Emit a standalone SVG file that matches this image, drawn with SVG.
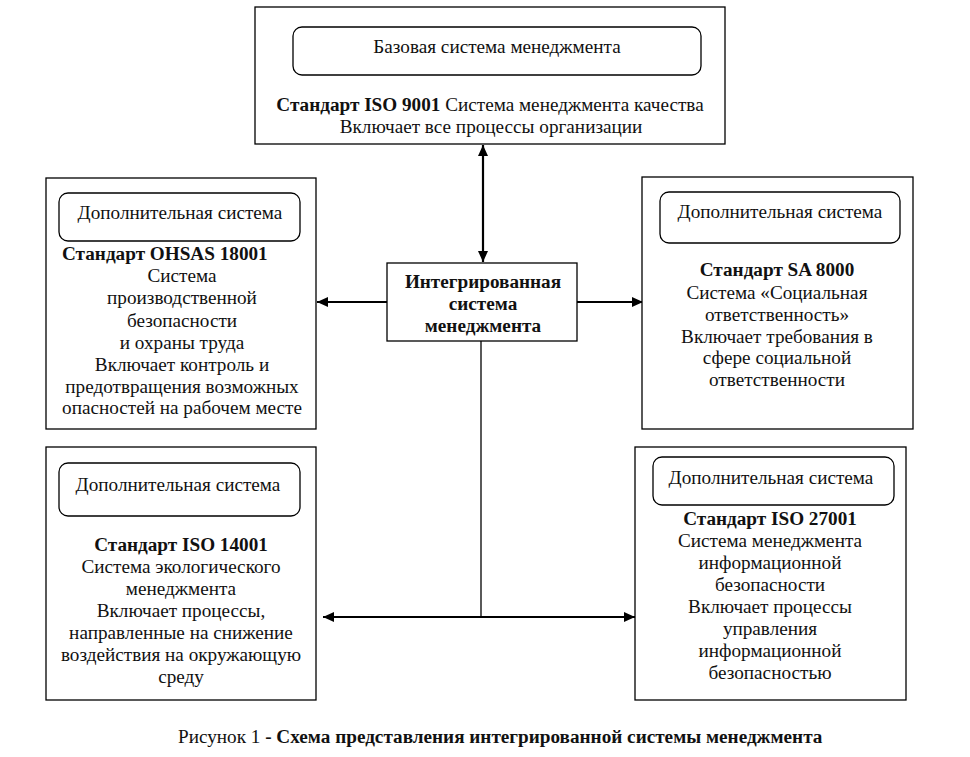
<svg xmlns="http://www.w3.org/2000/svg" width="970" height="757" viewBox="0 0 970 757">
<style>
  .box { fill: #fff; stroke: #000; stroke-width: 1.3; }
  .inner { fill: #fff; stroke: #000; stroke-width: 1.3; }
  text { font-family: "Liberation Serif", "Times New Roman", serif; font-size: 19.2px; fill: #111; }
  .c { text-anchor: middle; }
  .b { font-weight: bold; }
  .arrow { stroke: #000; stroke-width: 2.2; fill: none; }
  .thin { stroke: #000; stroke-width: 1.3; fill: none; }
</style>
<defs>
  <marker id="ah" markerUnits="userSpaceOnUse" markerWidth="12" markerHeight="10" refX="11" refY="5" orient="auto-start-reverse">
    <path d="M0,0 L11,5 L0,10 z" fill="#000"/>
  </marker>
</defs>
<rect width="970" height="757" fill="#fff"/>

<g id="connectors">
  <line class="arrow" x1="483" y1="145" x2="483" y2="262" marker-start="url(#ah)" marker-end="url(#ah)"/>
  <line class="arrow" x1="387" y1="302" x2="317" y2="302" marker-end="url(#ah)"/>
  <line class="arrow" x1="577" y1="302" x2="643" y2="302" marker-end="url(#ah)"/>
  <line class="thin" x1="481" y1="341" x2="481" y2="617"/>
  <line class="arrow" x1="323" y1="617" x2="635" y2="617" marker-start="url(#ah)" marker-end="url(#ah)"/>
</g>

<g id="base">
  <rect class="box" x="255" y="7" width="470" height="137"/>
  <rect class="inner" x="293" y="27" width="408" height="48" rx="9"/>
  <text class="c" x="497" y="53">Базовая система менеджмента</text>
  <text class="c" x="490" y="111"><tspan class="b">Стандарт ISO 9001</tspan> Система менеджмента качества</text>
  <text class="c" x="491" y="133">Включает все процессы организации</text>
</g>

<g id="integrated">
  <rect class="box" x="387" y="263" width="190" height="78"/>
  <text class="c b" x="483" y="288">Интегрированная</text>
  <text class="c b" x="483" y="310">система</text>
  <text class="c b" x="483" y="332">менеджмента</text>
</g>

<g id="ohsas">
  <rect class="box" x="46" y="178" width="270" height="251"/>
  <rect class="inner" x="59" y="193" width="241" height="48" rx="9"/>
  <text class="c" x="180" y="219">Дополнительная система</text>
  <text class="b" x="62" y="260">Стандарт OHSAS 18001</text>
  <text class="c" x="182" y="282">Система</text>
  <text class="c" x="182" y="304">производственной</text>
  <text class="c" x="182" y="327">безопасности</text>
  <text class="c" x="182" y="349">и охраны труда</text>
  <text class="c" x="182" y="371">Включает контроль и</text>
  <text class="c" x="182" y="393">предотвращения возможных</text>
  <text class="c" x="182" y="414">опасностей на рабочем месте</text>
</g>

<g id="sa8000">
  <rect class="box" x="642" y="177" width="271" height="252"/>
  <rect class="inner" x="660" y="192" width="240" height="51" rx="9"/>
  <text class="c" x="780" y="218">Дополнительная система</text>
  <text class="c b" x="777" y="276">Стандарт SA 8000</text>
  <text class="c" x="777" y="299">Система «Социальная</text>
  <text class="c" x="777" y="321">ответственность»</text>
  <text class="c" x="777" y="343">Включает требования в</text>
  <text class="c" x="777" y="364">сфере социальной</text>
  <text class="c" x="777" y="386">ответственности</text>
</g>

<g id="iso14001">
  <rect class="box" x="46" y="447" width="270" height="253"/>
  <rect class="inner" x="59" y="463" width="241" height="53" rx="9"/>
  <text class="c" x="178" y="491">Дополнительная система</text>
  <text class="c b" x="181" y="551">Стандарт ISO 14001</text>
  <text class="c" x="181" y="573">Система экологического</text>
  <text class="c" x="181" y="595">менеджмента</text>
  <text class="c" x="181" y="617">Включает процессы,</text>
  <text class="c" x="181" y="639">направленные на снижение</text>
  <text class="c" x="181" y="661">воздействия на окружающую</text>
  <text class="c" x="181" y="683">среду</text>
</g>

<g id="iso27001">
  <rect class="box" x="635" y="447" width="271" height="253"/>
  <rect class="inner" x="653" y="457" width="241" height="48" rx="9"/>
  <text class="c" x="771" y="484">Дополнительная система</text>
  <text class="c b" x="770" y="525">Стандарт ISO 27001</text>
  <text class="c" x="770" y="547">Система менеджмента</text>
  <text class="c" x="770" y="569">информационной</text>
  <text class="c" x="770" y="591">безопасности</text>
  <text class="c" x="770" y="613">Включает процессы</text>
  <text class="c" x="770" y="635">управления</text>
  <text class="c" x="770" y="657">информационной</text>
  <text class="c" x="770" y="679">безопасностью</text>
</g>

<g id="caption">
  <text x="178" y="743">Рисунок 1 <tspan class="b">- Схема представления интегрированной системы менеджмента</tspan></text>
</g>
</svg>
